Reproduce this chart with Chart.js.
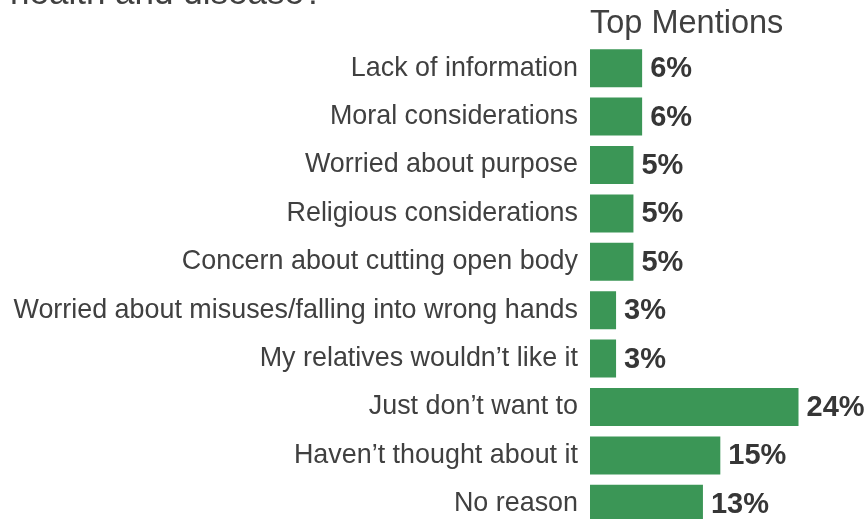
<!DOCTYPE html>
<html>
<head>
<meta charset="utf-8">
<script src="https://cdn.jsdelivr.net/npm/chart.js@4"></script>
<style>
  html, body { margin: 0; padding: 0; background: #fff; overflow: hidden; }
  #wrap { width: 868px; height: 519px; overflow: hidden; }
</style>
</head>
<body>
<div id="wrap"><canvas id="reasons" width="868" height="528"></canvas></div>
<script>
const reasons = [
  'Lack of information',
  'Moral considerations',
  'Worried about purpose',
  'Religious considerations',
  'Concern about cutting open body',
  'Worried about misuses/falling into wrong hands',
  'My relatives wouldn\u2019t like it',
  'Just don\u2019t want to',
  'Haven\u2019t thought about it',
  'No reason'
]
const mentions = [6, 6, 5, 5, 5, 3, 3, 24, 15, 13]

const titleText = 'health and disease?'
const headerText = 'Top Mentions'

const textColor = '#404040'
const barColor = '#3b9656'

// question line (cut at the top) and the column header over the bars
const headings = {
  id: 'headings',
  afterDraw (chart) {
    const ctx = chart.ctx
    const area = chart.chartArea
    ctx.save()
    ctx.fillStyle = textColor
    ctx.textAlign = 'left'
    ctx.textBaseline = 'alphabetic'
    ctx.font = '35px "Liberation Sans", Arial, sans-serif'
    ctx.fillText(titleText, 10, 4)
    ctx.font = '32.5px "Liberation Sans", Arial, sans-serif'
    ctx.fillText(headerText, area.left, 33)
    ctx.restore()
  }
}

// bold percentage next to each bar
const valueLabels = {
  id: 'valueLabels',
  afterDatasetsDraw (chart) {
    const ctx = chart.ctx
    const meta = chart.getDatasetMeta(0)
    ctx.save()
    ctx.fillStyle = '#363636'
    ctx.font = 'bold 29px "Liberation Sans", Arial, sans-serif'
    ctx.textAlign = 'left'
    ctx.textBaseline = 'middle'
    meta.data.forEach((bar, i) => {
      ctx.fillText(mentions[i] + '%', bar.x + 8, bar.y + 1)
    })
    ctx.restore()
  }
}

let reasonsElement = document.getElementById('reasons').getContext('2d')
let reasonsChart = new Chart(reasonsElement, {
  type: 'bar',
  data: {
    labels: reasons,
    datasets: [
      {
        label: 'Top Mentions',
        data: mentions,
        backgroundColor: barColor,
        categoryPercentage: 0.785,
        barPercentage: 1
      }
    ]
  },
  options: {
    indexAxis: 'y',
    responsive: false,
    animation: false,
    layout: {
      padding: { top: 44, right: 0, bottom: 0, left: 0 }
    },
    plugins: {
      legend: { display: false },
      tooltip: { enabled: false }
    },
    scales: {
      x: {
        display: false,
        min: 0,
        max: 32
      },
      y: {
        afterFit (scale) {
          scale.width = 590
          // the bars run off the bottom edge, no room kept for label overhang
          scale.paddingTop = 0
          scale.paddingBottom = 0
        },
        grid: { display: false, drawTicks: false },
        border: { display: false },
        ticks: {
          color: textColor,
          padding: 12,
          font: { family: '"Liberation Sans", Arial, sans-serif', size: 26.9 }
        }
      }
    }
  },
  plugins: [headings, valueLabels]
})
</script>
</body>
</html>
